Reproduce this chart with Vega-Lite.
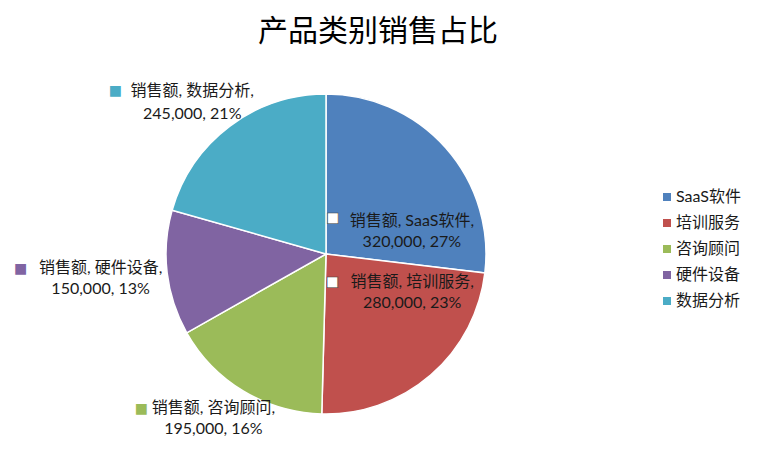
{
  "$schema": "https://vega.github.io/schema/vega-lite/v6.json",
  "width": 320,
  "height": 320,
  "autosize": "none",
  "padding": {"left": 166, "top": 94, "right": 272, "bottom": 42},
  "background": "white",
  "title": {
    "text": "产品类别销售占比",
    "font": "Noto Sans CJK SC",
    "fontSize": 30,
    "fontWeight": "normal",
    "color": "#000000",
    "anchor": "middle",
    "dx": 52,
    "offset": 6
  },
  "config": {
    "view": {"stroke": null},
    "text": {"font": "Lato, 'Noto Sans CJK SC'", "fontSize": 16, "color": "#1a1a1a"}
  },
  "data": {
    "values": [
      {"idx": 1, "cat": "SaaS软件", "sales": 320000, "pct": 27},
      {"idx": 2, "cat": "培训服务", "sales": 280000, "pct": 23},
      {"idx": 3, "cat": "咨询顾问", "sales": 195000, "pct": 16},
      {"idx": 4, "cat": "硬件设备", "sales": 150000, "pct": 13},
      {"idx": 5, "cat": "数据分析", "sales": 245000, "pct": 21}
    ]
  },
  "transform": [
    {"calculate": "'销售额, ' + datum.cat + ',\\n' + format(datum.sales, ',') + ', ' + datum.pct + '%'", "as": "label"}
  ],
  "encoding": {
    "theta": {"field": "sales", "type": "quantitative", "stack": true},
    "order": {"field": "idx", "type": "quantitative"}
  },
  "layer": [
    {
      "mark": {"type": "arc", "stroke": "white", "strokeWidth": 1.5},
      "encoding": {
        "color": {
          "field": "cat",
          "type": "nominal",
          "scale": {
            "domain": ["SaaS软件", "培训服务", "咨询顾问", "硬件设备", "数据分析"],
            "range": ["#4F81BD", "#C0504D", "#9BBB59", "#8064A2", "#4BACC6"]
          },
          "legend": {
            "title": null,
            "orient": "none",
            "legendX": 493,
            "legendY": 95,
            "symbolType": "square",
            "symbolSize": 64,
            "symbolStrokeWidth": 0,
            "labelFont": "Lato, 'Noto Sans CJK SC'",
            "labelFontSize": 16,
            "labelColor": "#1a1a1a",
            "labelOffset": 1,
            "rowPadding": 10,
            "padding": 0
          }
        }
      }
    },
    {
      "mark": {"type": "text", "radius": 80, "dx": 26, "dy": 20, "lineBreak": "\n", "lineHeight": 21, "align": "center", "baseline": "middle"},
      "encoding": {
        "detail": {"field": "cat"},
        "text": {"condition": {"test": "datum.cat === 'SaaS软件'", "field": "label"}, "value": ""}
      }
    },
    {
      "mark": {"type": "text", "radius": 86, "dx": 30, "dy": -37, "lineBreak": "\n", "lineHeight": 21, "align": "center", "baseline": "middle"},
      "encoding": {
        "detail": {"field": "cat"},
        "text": {"condition": {"test": "datum.cat === '培训服务'", "field": "label"}, "value": ""}
      }
    },
    {
      "mark": {"type": "text", "radius": 199, "dx": -10, "dy": -17, "lineBreak": "\n", "lineHeight": 21, "align": "center", "baseline": "middle"},
      "encoding": {
        "detail": {"field": "cat"},
        "text": {"condition": {"test": "datum.cat === '咨询顾问'", "field": "label"}, "value": ""}
      }
    },
    {
      "mark": {"type": "text", "radius": 226, "dx": -1, "dy": -13, "lineBreak": "\n", "lineHeight": 21, "align": "center", "baseline": "middle"},
      "encoding": {
        "detail": {"field": "cat"},
        "text": {"condition": {"test": "datum.cat === '硬件设备'", "field": "label"}, "value": ""}
      }
    },
    {
      "mark": {"type": "text", "radius": 202, "dx": -12, "dy": -2, "lineBreak": "\n", "lineHeight": 23, "align": "center", "baseline": "middle"},
      "encoding": {
        "detail": {"field": "cat"},
        "text": {"condition": {"test": "datum.cat === '数据分析'", "field": "label"}, "value": ""}
      }
    },
    {
      "mark": {"type": "text", "radius": 80, "dx": -53, "dy": 17, "font": "DejaVu Sans", "fontSize": 14, "fill": "white", "stroke": "#404040", "strokeWidth": 0.6, "align": "center", "baseline": "middle"},
      "encoding": {
        "detail": {"field": "cat"},
        "text": {"condition": {"test": "datum.cat === 'SaaS软件'", "value": "■"}, "value": ""}
      }
    },
    {
      "mark": {"type": "text", "radius": 86, "dx": -50, "dy": -37, "font": "DejaVu Sans", "fontSize": 14, "fill": "white", "stroke": "#404040", "strokeWidth": 0.6, "align": "center", "baseline": "middle"},
      "encoding": {
        "detail": {"field": "cat"},
        "text": {"condition": {"test": "datum.cat === '培训服务'", "value": "■"}, "value": ""}
      }
    },
    {
      "mark": {"type": "text", "radius": 199, "dx": -82, "dy": -16, "font": "DejaVu Sans", "fontSize": 14, "align": "center", "baseline": "middle"},
      "encoding": {
        "color": {"field": "cat", "type": "nominal"},
        "text": {"condition": {"test": "datum.cat === '咨询顾问'", "value": "■"}, "value": ""}
      }
    },
    {
      "mark": {"type": "text", "radius": 226, "dx": -81, "dy": -12, "font": "DejaVu Sans", "fontSize": 14, "align": "center", "baseline": "middle"},
      "encoding": {
        "color": {"field": "cat", "type": "nominal"},
        "text": {"condition": {"test": "datum.cat === '硬件设备'", "value": "■"}, "value": ""}
      }
    },
    {
      "mark": {"type": "text", "radius": 202, "dx": -89, "dy": -2, "font": "DejaVu Sans", "fontSize": 14, "align": "center", "baseline": "middle"},
      "encoding": {
        "color": {"field": "cat", "type": "nominal"},
        "text": {"condition": {"test": "datum.cat === '数据分析'", "value": "■"}, "value": ""}
      }
    }
  ]
}
